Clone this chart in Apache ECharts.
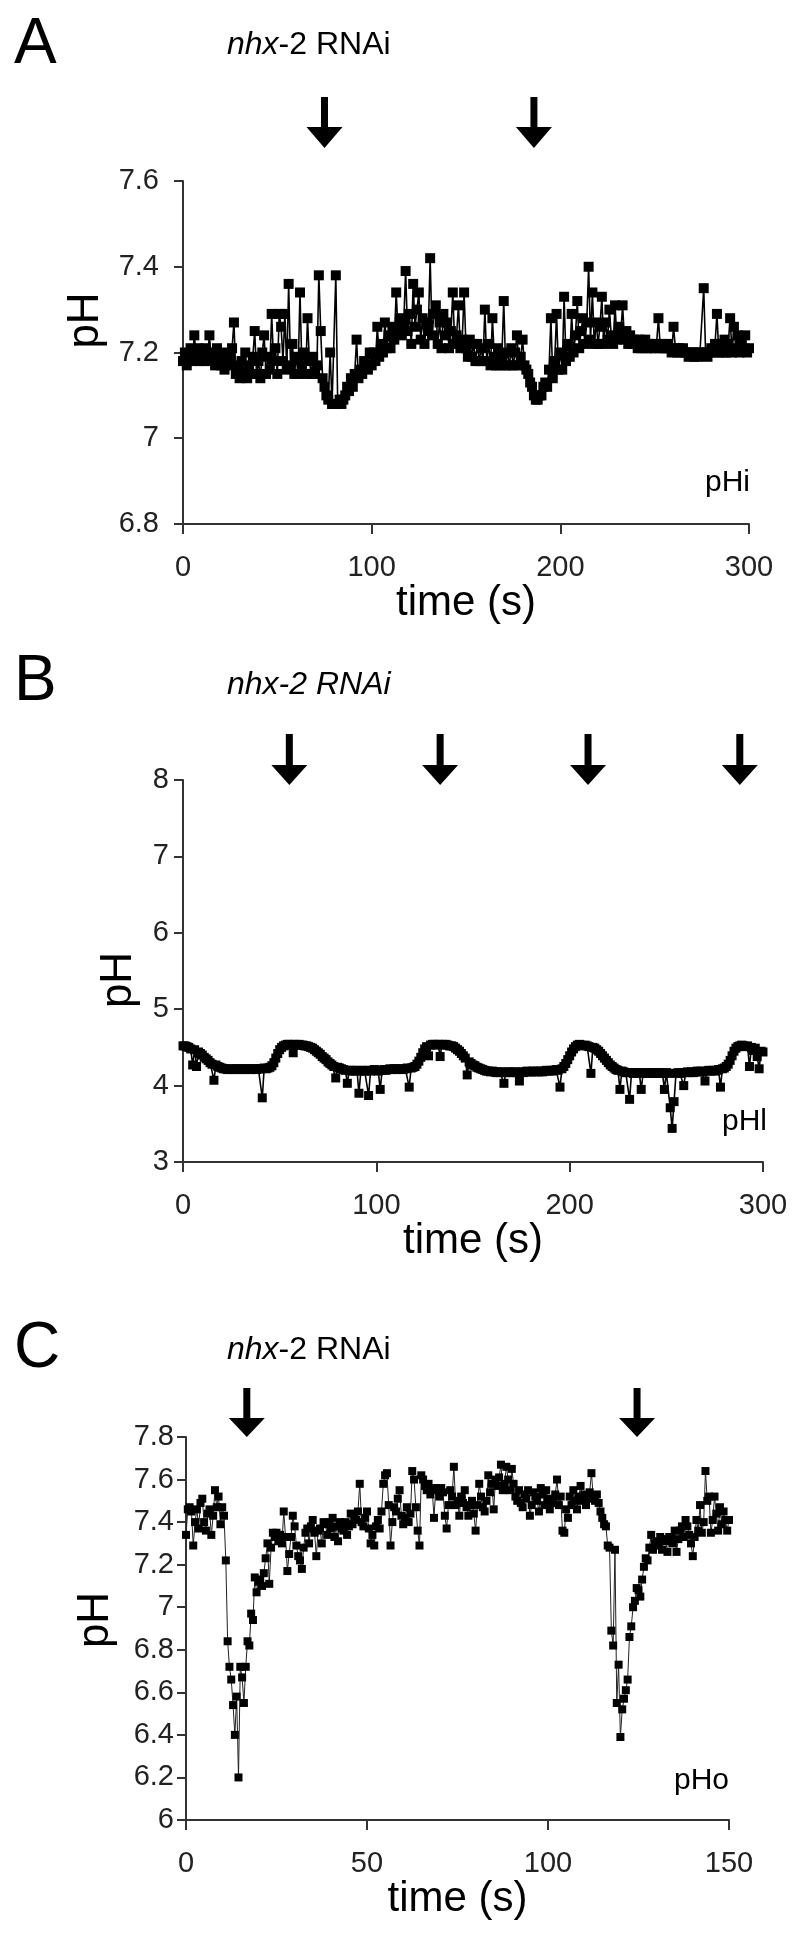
<!DOCTYPE html>
<html><head><meta charset="utf-8">
<script src="https://cdn.jsdelivr.net/npm/echarts@6/dist/echarts.min.js"></script>
<style>html,body{margin:0;padding:0;background:#fff}#c{width:800px;height:1939px}</style>
</head><body><div id="c"></div>
<script>
// ---------- DATA ----------
// Panel A: pHi, one reading per second (0..300 s)
const stepA = 1;
const phA = [
7.18,7.20,7.17,7.19,7.21,7.18,7.24,7.19,7.21,7.18,
7.20,7.18,7.21,7.19,7.24,7.18,7.20,7.17,7.21,7.18,
7.17,7.20,7.16,7.18,7.17,7.19,7.21,7.27,7.15,7.17,
7.14,7.18,7.15,7.20,7.14,7.17,7.15,7.19,7.25,7.15,
7.18,7.14,7.20,7.24,7.15,7.19,7.16,7.29,7.18,7.21,
7.15,7.29,7.26,7.18,7.29,7.16,7.36,7.17,7.22,7.15,
7.19,7.15,7.34,7.17,7.20,7.15,7.28,7.18,7.15,7.19,
7.15,7.17,7.38,7.25,7.14,7.12,7.10,7.09,7.20,7.08,
7.08,7.38,7.08,7.09,7.08,7.09,7.10,7.12,7.11,7.14,
7.12,7.15,7.23,7.14,7.16,7.15,7.18,7.17,7.16,7.20,
7.17,7.20,7.18,7.26,7.19,7.22,7.20,7.27,7.21,7.24,
7.21,7.26,7.23,7.34,7.25,7.28,7.24,7.27,7.39,7.25,
7.29,7.22,7.36,7.26,7.30,7.34,7.23,7.28,7.22,7.27,
7.25,7.42,7.24,7.29,7.31,7.22,7.27,7.21,7.29,7.24,
7.27,7.21,7.25,7.34,7.22,7.24,7.31,7.21,7.23,7.34,
7.21,7.19,7.23,7.19,7.22,7.18,7.22,7.18,7.21,7.18,
7.30,7.18,7.22,7.17,7.28,7.19,7.17,7.21,7.17,7.19,
7.32,7.17,7.20,7.17,7.21,7.17,7.20,7.24,7.17,7.19,
7.23,7.17,7.16,7.15,7.13,7.12,7.10,7.09,7.09,7.10,
7.10,7.12,7.13,7.12,7.16,7.28,7.14,7.18,7.29,7.16,
7.20,7.16,7.33,7.18,7.22,7.19,7.29,7.20,7.24,7.32,
7.21,7.25,7.28,7.22,7.27,7.40,7.23,7.34,7.22,7.27,
7.22,7.26,7.33,7.22,7.27,7.23,7.30,7.24,7.22,7.31,
7.23,7.26,7.24,7.31,7.23,7.25,7.22,7.24,7.22,7.23,
7.22,7.21,7.23,7.21,7.22,7.23,7.21,7.22,7.21,7.22,
7.21,7.22,7.28,7.21,7.22,7.21,7.21,7.22,7.21,7.20,
7.26,7.21,7.20,7.21,7.20,7.21,7.20,7.20,7.19,7.20,
7.20,7.19,7.20,7.19,7.20,7.20,7.35,7.20,7.19,7.20,
7.21,7.20,7.22,7.29,7.20,7.22,7.20,7.23,7.20,7.22,
7.28,7.20,7.26,7.21,7.24,7.20,7.23,7.21,7.24,7.20,7.21
];
// Panel B: pHl, one reading per second (0..300 s)
const stepB = 1;
const phB = [
4.52,4.52,4.51,4.50,4.48,4.27,4.47,4.25,4.44,4.42,
4.40,4.37,4.35,4.33,4.30,4.28,4.07,4.27,4.25,4.24,
4.23,4.22,4.22,4.21,4.22,4.21,4.22,4.21,4.22,4.22,
4.21,4.22,4.21,4.22,4.22,4.21,4.22,4.22,4.21,4.22,
4.22,3.84,4.23,4.22,4.23,4.24,4.26,4.30,4.36,4.42,
4.47,4.50,4.52,4.53,4.54,4.54,4.53,4.43,4.54,4.53,
4.54,4.53,4.53,4.52,4.52,4.51,4.50,4.49,4.47,4.45,
4.43,4.41,4.38,4.36,4.34,4.31,4.29,4.27,4.25,4.10,
4.24,4.23,4.22,4.21,4.20,4.03,4.20,4.19,4.20,4.19,
4.20,3.90,4.19,4.20,4.19,4.20,3.87,4.19,4.20,4.21,
4.20,4.19,3.95,4.20,4.21,4.20,4.21,4.22,4.21,4.22,
4.22,4.21,4.22,4.22,4.21,4.22,4.23,3.98,4.23,4.24,
4.25,4.28,4.32,4.37,4.43,4.48,4.51,4.39,4.53,4.54,
4.54,4.53,4.54,4.38,4.54,4.53,4.54,4.53,4.52,4.52,
4.51,4.49,4.47,4.45,4.42,4.39,4.36,4.14,4.31,4.29,
4.27,4.26,4.24,4.23,4.22,4.21,4.20,4.19,4.19,4.18,
4.19,4.18,4.17,4.18,4.17,4.18,4.03,4.17,4.18,4.17,
4.18,4.17,4.18,4.17,4.06,4.18,4.17,4.18,4.19,4.18,
4.18,4.19,4.18,4.19,4.18,4.19,4.18,4.19,4.20,4.19,
4.20,4.19,4.20,4.21,4.20,3.98,4.22,4.25,4.29,4.34,
4.39,4.44,4.48,4.51,4.53,4.54,4.53,4.52,4.53,4.52,
4.51,4.16,4.50,4.49,4.47,4.45,4.42,4.39,4.36,4.33,
4.30,4.27,4.25,4.23,4.21,4.20,3.95,4.19,4.18,4.17,
4.17,3.82,4.17,4.16,4.17,4.16,4.17,3.95,4.16,4.17,
4.16,4.17,4.16,4.17,4.16,4.17,4.16,4.17,4.16,3.95,
4.17,4.16,3.71,3.44,3.79,4.16,4.17,4.16,4.17,4.00,
4.17,4.18,4.17,4.18,4.17,4.18,4.19,4.18,4.19,4.18,
4.06,4.19,4.20,4.19,4.20,4.19,4.20,4.21,3.98,4.22,
4.23,4.25,4.28,4.33,4.39,4.45,4.49,4.51,4.52,4.53,
4.52,4.51,4.52,4.25,4.50,4.46,4.49,4.38,4.22,4.45,4.44
];
// Panel C: pHo, one reading every 0.5 s (0..150 s)
const stepC = 0.5;
const phC = [
7.34,7.46,7.47,7.45,7.29,7.40,7.46,7.37,7.49,7.51,
7.40,7.36,7.44,7.46,7.34,7.43,7.55,7.47,7.52,7.39,
7.47,7.43,7.22,6.84,6.72,6.66,6.54,6.40,6.58,6.20,
6.72,6.67,6.55,6.72,6.84,6.82,6.97,6.94,7.14,7.07,
7.12,7.13,7.10,7.16,7.23,7.30,7.11,7.28,7.35,7.33,
7.35,7.31,7.34,7.30,7.45,7.33,7.17,7.25,7.33,7.43,
7.38,7.29,7.24,7.22,7.18,7.28,7.35,7.37,7.30,7.38,
7.41,7.35,7.24,7.36,7.37,7.30,7.40,7.39,7.34,7.40,
7.37,7.42,7.33,7.38,7.31,7.40,7.37,7.36,7.40,7.34,
7.38,7.44,7.39,7.42,7.41,7.45,7.58,7.40,7.38,7.42,
7.45,7.37,7.30,7.34,7.29,7.38,7.41,7.37,7.45,7.58,
7.62,7.63,7.48,7.29,7.40,7.47,7.45,7.51,7.55,7.43,
7.39,7.42,7.47,7.40,7.44,7.64,7.60,7.47,7.36,7.29,
7.62,7.60,7.57,7.55,7.58,7.53,7.56,7.42,7.56,7.55,
7.52,7.56,7.54,7.43,7.37,7.48,7.55,7.52,7.66,7.48,
7.50,7.43,7.52,7.49,7.55,7.47,7.43,7.48,7.50,7.44,
7.36,7.48,7.58,7.52,7.47,7.45,7.50,7.62,7.54,7.58,
7.46,7.60,7.57,7.61,7.67,7.55,7.58,7.66,7.60,7.55,
7.65,7.58,7.52,7.50,7.55,7.49,7.47,7.53,7.51,7.55,
7.43,7.48,7.54,7.52,7.50,7.45,7.56,7.53,7.48,7.55,
7.51,7.46,7.49,7.50,7.53,7.60,7.48,7.52,7.36,7.35,
7.46,7.42,7.52,7.48,7.55,7.50,7.46,7.52,7.57,7.50,
7.53,7.48,7.51,7.54,7.63,7.52,7.50,7.53,7.49,7.45,
7.42,7.39,7.38,7.29,7.28,6.89,6.82,7.27,6.55,6.73,
6.39,6.52,6.57,6.61,6.66,6.86,6.91,7.00,7.03,7.09,
7.08,7.05,7.13,7.19,7.23,7.22,7.28,7.34,7.27,7.30,
7.31,7.29,7.33,7.27,7.32,7.31,7.26,7.33,7.33,7.30,
7.36,7.26,7.32,7.36,7.38,7.33,7.41,7.38,7.34,7.30,
7.24,7.33,7.41,7.36,7.48,7.35,7.40,7.64,7.50,7.52,
7.35,7.41,7.52,7.44,7.36,7.47,7.39,7.45,7.41,7.36,
7.41
];
// Arrow (treatment) times, seconds
const arrowsA = [75, 186];
const arrowsB = [55, 133, 209.5, 288];
const arrowsC = [16.8, 124.6];
// Axis ranges / ticks
const xRangeA = [0, 300, 100], yRangeA = [6.8, 7.6, 0.2];
const xRangeB = [0, 300, 100], yRangeB = [3, 8, 1];
const xRangeC = [0, 150, 50],  yRangeC = [6, 7.8, 0.2];
// Texts
const panelLetters = ['A', 'B', 'C'];
const trackLabels = ['pHi', 'pHl', 'pHo'];
const xTitle = 'time (s)';
const yTitle = 'pH';

// ---------- CHART ----------
const FONT = "'Liberation Sans', Arial, Helvetica, sans-serif";
const chart = echarts.init(document.getElementById('c'), null, {renderer: 'canvas', width: 800, height: 1939});

const panels = [
  {grid: {left: 183, top: 181, width: 566, height: 343}, x: xRangeA, y: yRangeA, data: phA, step: stepA,
   yMargin: 24, yGap: 66, yPad: [0, 0, 0, 64], lineW: 1.6, sym: 10, lineColor: '#000'},
  {grid: {left: 183, top: 780, width: 580, height: 382}, x: xRangeB, y: yRangeB, data: phB, step: stepB,
   yMargin: 14, yGap: 42, yPad: [0, 18, 0, 0], lineW: 1.6, sym: 9, lineColor: '#000'},
  {grid: {left: 186, top: 1437, width: 543, height: 383}, x: xRangeC, y: yRangeC, data: phC, step: stepC,
   yMargin: 12, yGap: 68, yPad: [0, 0, 0, 17], lineW: 1, sym: 8, lineColor: '#222'}
];

const axisLineStyle = {color: '#333', width: 2};
const option = {
  backgroundColor: '#fff',
  animation: false,
  grid: panels.map(p => Object.assign({containLabel: false}, p.grid)),
  xAxis: panels.map((p, i) => ({
    type: 'value', gridIndex: i, min: p.x[0], max: p.x[1], interval: p.x[2],
    axisLine: {show: true, onZero: false, lineStyle: axisLineStyle},
    axisTick: {show: true, length: 10, lineStyle: axisLineStyle},
    axisLabel: {fontSize: 29, color: '#222', margin: 29, fontFamily: FONT, showMinLabel: true, showMaxLabel: true},
    splitLine: {show: false},
    name: xTitle, nameLocation: 'middle', nameGap: 57,
    nameTextStyle: {fontSize: 42, color: '#000', fontFamily: FONT}
  })),
  yAxis: panels.map((p, i) => ({
    type: 'value', gridIndex: i, min: p.y[0], max: p.y[1], interval: p.y[2],
    axisLine: {show: true, onZero: false, lineStyle: axisLineStyle},
    axisTick: {show: true, length: 9, lineStyle: axisLineStyle},
    axisLabel: {fontSize: 29, color: '#222', margin: p.yMargin, fontFamily: FONT, showMinLabel: true, showMaxLabel: true},
    splitLine: {show: false},
    name: yTitle, nameLocation: 'middle', nameGap: p.yGap,
    nameTextStyle: {fontSize: 44, color: '#000', fontFamily: FONT, padding: p.yPad}
  })),
  series: panels.map((p, i) => ({
    type: 'line', xAxisIndex: i, yAxisIndex: i,
    data: p.data.map((v, k) => [k * p.step, v]),
    symbol: 'rect', symbolSize: p.sym, showSymbol: true,
    lineStyle: {color: p.lineColor, width: p.lineW},
    itemStyle: {color: '#000'},
    emphasis: {disabled: true}
  }))
};
chart.setOption(option);

// annotations: panel letters, treatment labels, arrows, track labels
const arrowGeom = [
  {times: arrowsA, top: 97, head: 127, tip: 148},
  {times: arrowsB, top: 734, head: 765, tip: 785},
  {times: arrowsC, top: 1388, head: 1418, tip: 1437}
];
const letterY = [45, 682, 1349];
const rnaiY = [45, 685, 1350];
const trackPos = [[750, 483], [767, 1122], [729, 1781]];
const graphics = [];
panelLetters.forEach((L, i) => {
  graphics.push({type: 'text', x: 14, y: letterY[i], style: {text: L, font: '64px ' + FONT, fill: '#000', verticalAlign: 'middle', align: 'left'}});
  const italicAll = (i === 1);
  graphics.push({type: 'text', x: 227, y: rnaiY[i], style: {
    text: italicAll ? '{i|nhx-2 RNAi}' : '{i|nhx}{n|-2 RNAi}',
    rich: {i: {fontStyle: 'italic', fontSize: 32, fontFamily: FONT, fill: '#000'}, n: {fontSize: 32, fontFamily: FONT, fill: '#000'}},
    verticalAlign: 'middle', align: 'left'}});
  graphics.push({type: 'text', x: trackPos[i][0], y: trackPos[i][1], style: {text: trackLabels[i], font: '30px ' + FONT, fill: '#000', align: 'right', verticalAlign: 'middle'}});
  const g = arrowGeom[i];
  g.times.forEach(t => {
    const x = chart.convertToPixel({gridIndex: i}, [t, panels[i].y[1]])[0];
    graphics.push({type: 'polygon', shape: {points: [[x - 3.5, g.top], [x + 3.5, g.top], [x + 3.5, g.head], [x + 18, g.head], [x, g.tip], [x - 18, g.head], [x - 3.5, g.head]]}, style: {fill: '#000'}});
  });
});
chart.setOption({graphic: graphics});
</script></body></html>
